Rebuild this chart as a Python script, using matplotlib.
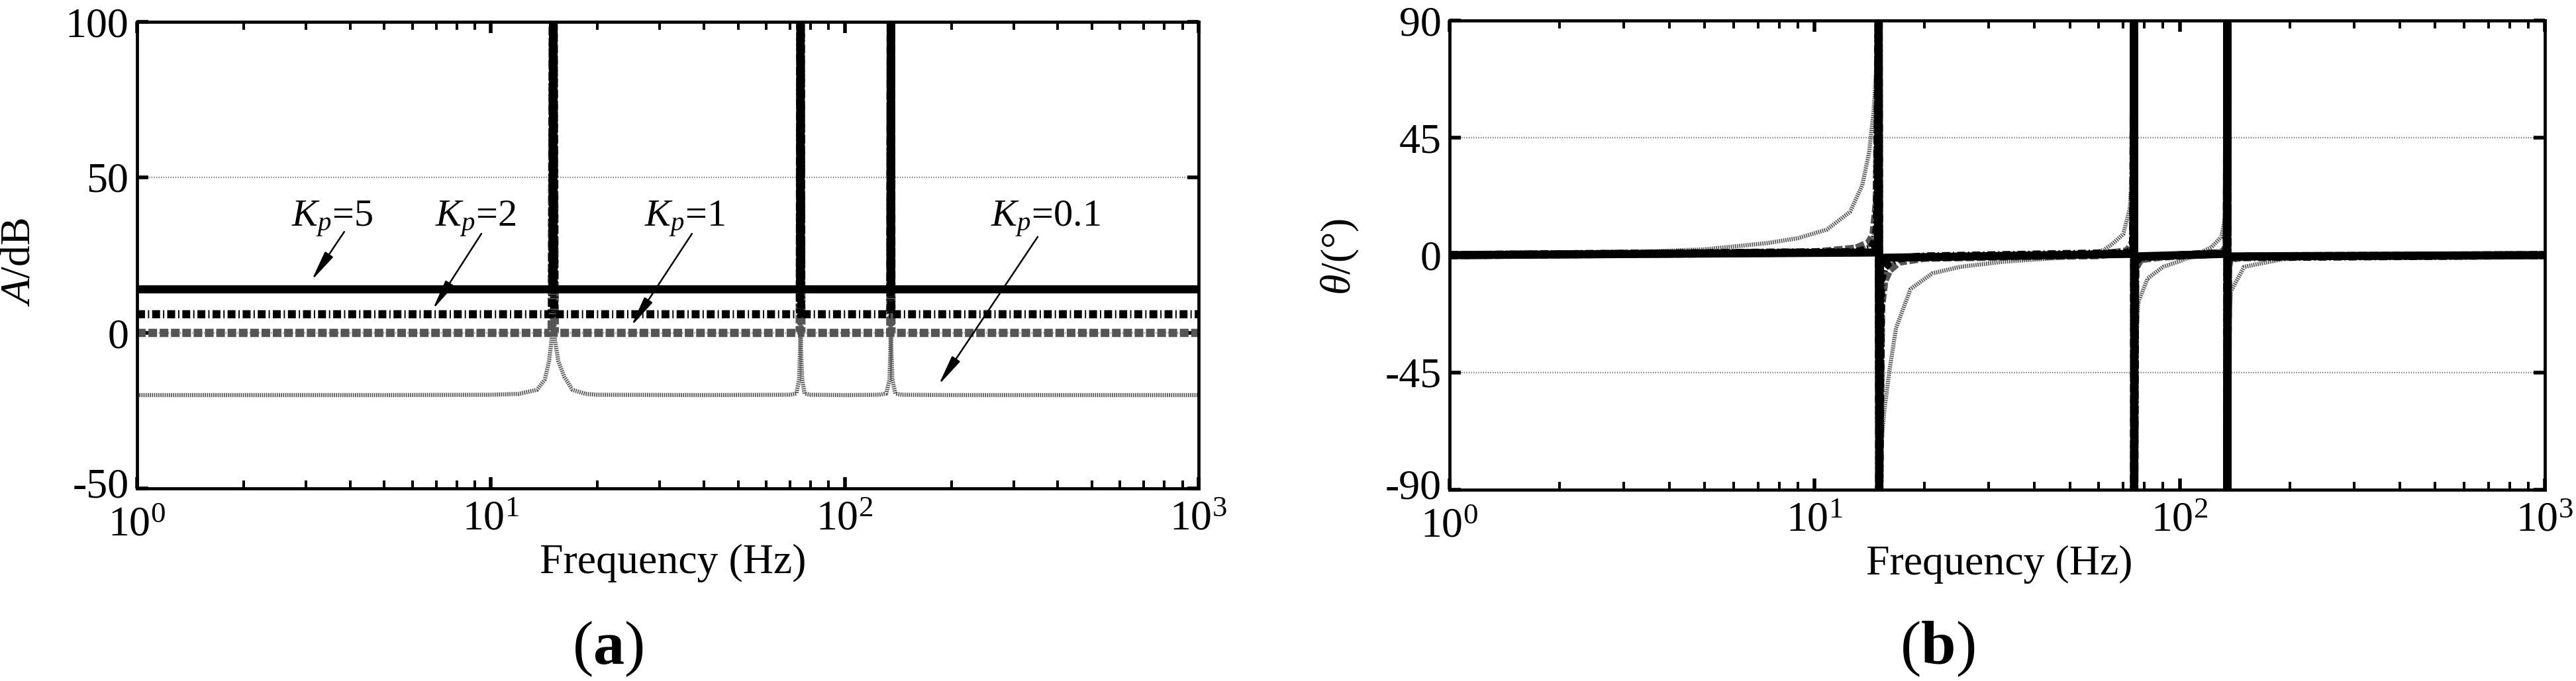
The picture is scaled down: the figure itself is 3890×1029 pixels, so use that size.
import matplotlib
matplotlib.use("Agg")
import matplotlib.pyplot as plt
from matplotlib.ticker import LogLocator, NullFormatter
from matplotlib.transforms import ScaledTranslation

plt.rcParams['font.family'] = ['Liberation Serif', 'DejaVu Serif']
plt.rcParams['mathtext.fontset'] = 'custom'
plt.rcParams['mathtext.rm'] = 'Liberation Serif'
plt.rcParams['mathtext.it'] = 'Liberation Serif:italic'
plt.rcParams['mathtext.bf'] = 'Liberation Serif:bold'
plt.rcParams['lines.scale_dashes'] = False
plt.rcParams['axes.unicode_minus'] = False

# ---------------- data ----------------
kp_labels = ['$K_p$=5', '$K_p$=2', '$K_p$=1', '$K_p$=0.1']

# magnitude (dB) -- panel (a)
mag_f_kp5 = [1, 14.95, 15.0, 15.05, 74.8, 75.0, 75.2, 134.7, 135.0, 135.3, 1000]
mag_kp5 = [14, 14, 150, 14, 14, 150, 14, 14, 150, 14, 14]
mag_f_kp2 = [1, 14.9, 15.0, 15.1, 74.7, 75.0, 75.3, 134.6, 135.0, 135.4, 1000]
mag_kp2 = [6, 6, 150, 6, 6, 150, 6, 6, 150, 6, 6]
mag_f_kp1 = [1, 14.85, 15.0, 15.15, 74.6, 75.0, 75.4, 134.5, 135.0, 135.5, 1000]
mag_kp1 = [0, 0, 150, 0, 0, 150, 0, 0, 150, 0, 0]
mag_f_kp01 = [1, 5, 10, 12, 13.5, 14.2, 14.6, 14.85, 15.0, 15.15, 15.5, 16.1, 17, 18.5, 20,
              40, 70, 73, 74.3, 74.8, 75.0, 75.2, 75.8, 77, 80, 100,
              125, 131, 133.8, 134.6, 135.0, 135.4, 136.3, 139, 145, 200, 1000]
mag_kp01 = [-20, -20, -19.9, -19.6, -18.3, -15, -9, -2, 150, -2, -9, -14, -18.3, -19.6, -19.9,
            -20, -19.9, -19.5, -15, -5, 150, -5, -15, -19.5, -19.9, -20,
            -19.9, -19.5, -15, -5, 150, -5, -15, -19.5, -19.9, -20, -20]

# phase (deg) -- panel (b)
ph_f_kp5 = [1, 14.5, 14.9, 14.97, 15.03, 15.1, 15.5, 74.7, 74.97, 75.03, 75.3,
            134.6, 134.97, 135.03, 135.4, 1000]
ph_kp5 = [0, 1, 4, 89.9, -89.9, -4, -1, 0.5, 89.9, -89.9, -0.5, 0.5, 89.9, -89.9, -0.5, 0]
ph_f_kp2 = [1, 13, 14.1, 14.5, 14.8, 14.97, 15.03, 15.2, 15.5, 16, 17, 20,
            72, 74.5, 74.97, 75.03, 75.5, 78, 133, 134.6, 134.97, 135.03, 135.4, 137, 1000]
ph_kp2 = [0, 1.2, 2.4, 4, 10, 89.9, -89.9, -10, -5, -2.8, -1.2, -0.5,
          0.8, 2.5, 89.9, -89.9, -2.5, -0.8, 0.8, 2.5, 89.9, -89.9, -2.5, -0.8, 0]
ph_f_kp1 = [1, 10, 13, 14.1, 14.5, 14.8, 14.97, 15.03, 15.2, 15.5, 16, 17, 20,
            60, 72, 74.5, 74.85, 74.97, 75.03, 75.15, 75.5, 78, 90, 125, 133, 134.6, 134.85,
            134.97, 135.03, 135.15, 135.4, 137, 150, 1000]
ph_kp1 = [0, 1, 2.5, 4.7, 8, 20, 89.9, -89.9, -20, -10, -5.7, -2.5, -1,
          0, 1.5, 5, 30, 89.9, -89.9, -30, -5, -1.5, -0.5, 0.5, 1.5, 5, 30,
          89.9, -89.9, -30, -5, -1.5, -0.5, 0]
ph_f_kp01 = [1, 3, 5, 7.4, 9, 10.8, 12.5, 13.5, 14.1, 14.5, 14.8, 14.97, 15.03, 15.2,
             15.5, 16, 16.7, 18.3, 21, 25, 33, 45, 54, 62, 65, 70, 73, 74.5, 74.9, 74.98,
             75.02, 75.1, 75.5, 77, 81.6, 90, 100, 110, 122, 130, 133, 134.6, 134.9, 134.98,
             135.02, 135.1, 135.4, 138, 150, 192, 320, 1000]
ph_kp01 = [0.3, 1.0, 2.2, 4.6, 6.5, 9.8, 16.6, 26.8, 39.5, 55, 75, 89.9, -89.9, -75,
           -60, -45, -28, -13, -7, -4.5, -2.5, -1.2, -0.3, 2, 4, 8, 18, 40, 80, 89.9,
           -89.9, -80, -40, -18, -9, -4.5, -2.3, 0, 3, 7, 14, 40, 80, 89.9,
           -89.9, -80, -40, -14, -4.5, -1.5, -0.5, -0.1]

mag_yticks = [-50, 0, 50, 100]
ph_yticks = [-90, -45, 0, 45, 90]
x_ticks = [1, 10, 100, 1000]
x_ticklabels = [r'$\mathregular{10^{0}}$', r'$\mathregular{10^{1}}$',
                r'$\mathregular{10^{2}}$', r'$\mathregular{10^{3}}$']

# annotations (data coords): text anchor, arrow start, arrow tip
ann_text_xy = [(2.73, 34.3), (6.95, 34.3), (27.1, 34.3), (258, 34.3)]
ann_start_xy = [(3.85, 32.5), (9.4, 31.9), (37.0, 31.9), (351, 30.9)]
ann_tip_xy = [(3.11, 16.8), (6.84, 7.45), (24.9, 2.1), (184, -16.8)]

# ---------------- styles ----------------
styles = [
    dict(color='black', lw=8.8, linestyle='-'),
    dict(color='black', lw=8.8, linestyle=(0, (8.6, 3.2, 1.4, 3.2))),
    dict(color='#555555', lw=9.0, linestyle=(0, (9.4, 2.9))),
    dict(color='#5a5a5a', lw=4.5, linestyle=(0, (1.3, 1.0))),
]

FS = 46

fig = plt.figure(figsize=(38.9, 10.29), dpi=100)
axL = fig.add_axes([207 / 3890, 1 - 738 / 1029, 1603 / 3890, 705 / 1029])
axR = fig.add_axes([2189 / 3890, 1 - 740 / 1029, 1654 / 3890, 709 / 1029])

mag_series = [(mag_f_kp5, mag_kp5), (mag_f_kp2, mag_kp2), (mag_f_kp1, mag_kp1), (mag_f_kp01, mag_kp01)]
ph_series = [(ph_f_kp5, ph_kp5), (ph_f_kp2, ph_kp2), (ph_f_kp1, ph_kp1), (ph_f_kp01, ph_kp01)]

for ax, series, yl, yt in [(axL, mag_series, (-50, 100), mag_yticks),
                           (axR, ph_series, (-90, 90), ph_yticks)]:
    ax.set_xscale('log')
    ax.set_xlim(1, 1000)
    ax.set_ylim(*yl)
    ax.set_yticks(yt)
    ax.set_yticklabels([str(v) for v in yt])
    ax.set_xticks(x_ticks)
    ax.set_xticklabels(x_ticklabels)
    ax.xaxis.set_minor_locator(LogLocator(base=10, subs=range(2, 10)))
    ax.xaxis.set_minor_formatter(NullFormatter())
    ax.yaxis.grid(True, color='#7a7a7a', lw=1.6, linestyle=(0, (1.0, 1.6)), zorder=0)
    ax.set_axisbelow(True)
    for (f, v), st in zip(reversed(series), reversed(styles)):
        ax.plot(f, v, solid_capstyle='butt', dash_capstyle='butt', **st, zorder=2)
    for sp in ax.spines.values():
        sp.set_linewidth(3.4)
        sp.set_zorder(5)
    ax.tick_params(which='both', direction='in', top=True, right=True)
    ax.tick_params(which='major', length=12, width=4.0, labelsize=FS, pad=9)
    ax.tick_params(axis='x', which='major', pad=13)
    ax.tick_params(which='minor', length=8.5, width=2.9)
    ax.set_xlabel('Frequency (Hz)', fontsize=FS)
    ax.xaxis.label.set_va('baseline')
    # keep the corner labels (lowest y label, first x label) from colliding
    ylab0 = ax.get_yticklabels()[0]
    ylab0.set_transform(ylab0.get_transform() + ScaledTranslation(0, 9 / 100, fig.dpi_scale_trans))
    xlab0 = ax.get_xticklabels()[0]
    xlab0.set_transform(xlab0.get_transform() + ScaledTranslation(0, -9 / 100, fig.dpi_scale_trans))

axL.xaxis.set_label_coords(0.505, -0.182)
axR.xaxis.set_label_coords(0.502, -0.181)

axL.set_ylabel(r'$A$/dB', fontsize=FS)
axR.set_ylabel(r'$\theta$/(°)', fontsize=FS)
axL.yaxis.label.set_va('center')
axR.yaxis.label.set_va('center')
axL.yaxis.set_label_coords(-0.111, 0.485)
axR.yaxis.set_label_coords(-0.100, 0.496)

for lab, txy, sxy, hxy in zip(kp_labels, ann_text_xy, ann_start_xy, ann_tip_xy):
    axL.text(txy[0], txy[1], lab, fontsize=42, ha='left', va='baseline', zorder=6)
    axL.annotate('', xy=hxy, xytext=sxy,
                 arrowprops=dict(arrowstyle='-|>,head_length=1.4,head_width=0.22',
                                 color='black', lw=1.8, mutation_scale=20,
                                 shrinkA=0, shrinkB=0), zorder=6)

fig.text(918 / 3890, 1 - 1003 / 1029, r'($\mathbf{a}$)', fontsize=68, ha='center', va='baseline')
fig.text(2926 / 3890, 1 - 1003 / 1029, r'($\mathbf{b}$)', fontsize=68, ha='center', va='baseline')

fig.savefig('out.png', dpi=100)
